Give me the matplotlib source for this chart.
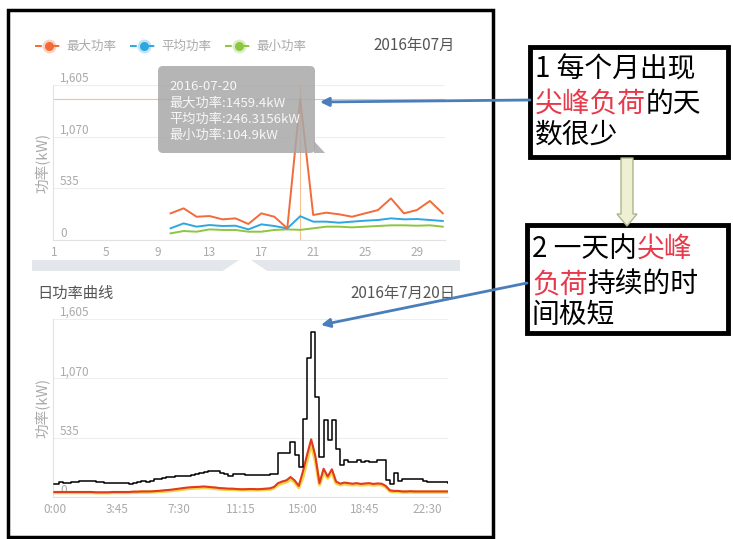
import numpy as np
import matplotlib
matplotlib.use("Agg")
import matplotlib.pyplot as plt
from matplotlib.patches import Rectangle, Polygon, FancyBboxPatch, FancyArrow

plt.rcParams['font.family'] = ['Noto Sans CJK SC', 'DejaVu Sans']

W, H = 733, 539

# ---- monthly summary (July 2016), data from day 10 on ----
days = list(range(10, 32))
max_power = [276, 328, 241, 248, 214, 224, 166, 276, 241, 121, 1459.4,
             259, 283, 266, 241, 276, 310, 431, 276, 310, 404, 276]
avg_power = [121, 172, 138, 155, 145, 148, 110, 162, 145, 120, 246.3156,
             190, 190, 179, 190, 200, 207, 224, 214, 217, 207, 197]
min_power = [69, 93, 86, 110, 104, 104, 86, 86, 104, 110, 104.9,
             121, 138, 138, 131, 138, 145, 152, 152, 148, 152, 138]
day_ticks = [1, 5, 9, 13, 17, 21, 25, 29]
kw_ticks = [0, 535, 1070, 1605]
kw_labels = ["0", "535", "1,070", "1,605"]

# ---- daily curve 2016-07-20, one sample every 15 min ----
peak_curve = [121, 135, 125, 125, 132, 132, 140, 140, 145, 140, 135, 135,
              130, 130, 130, 128, 122, 128, 118, 130, 135, 140, 138, 145,
              158, 165, 175, 178, 180, 185, 185, 190, 190, 195, 205, 215,
              225, 230, 232, 230, 215, 205, 185, 210, 210, 205, 200, 200,
              200, 200, 195, 200, 205, 210, 395, 400, 400, 500, 380, 275,
              700, 1250, 1485, 900, 365, 690, 510, 690, 430, 290, 330, 320,
              315, 330, 315, 325, 320, 315, 330, 335, 150, 120, 215, 145,
              160, 160, 162, 158, 160, 140, 138, 136, 136, 135, 132, 130]
avg_curve = [45, 45, 45, 45, 45, 45, 45, 45, 45, 45, 42, 42,
             42, 42, 45, 45, 45, 45, 45, 48, 48, 50, 50, 50,
             52, 55, 58, 62, 65, 70, 75, 80, 85, 88, 90, 92,
             95, 92, 88, 85, 80, 78, 75, 75, 72, 70, 70, 72,
             72, 70, 72, 75, 78, 90, 125, 140, 150, 180, 150, 100,
             230, 380, 520, 370, 125, 255, 185, 250, 140, 120, 130, 125,
             120, 125, 118, 122, 125, 118, 122, 120, 100, 60, 55, 55,
             50, 50, 52, 50, 50, 50, 50, 50, 50, 50, 50, 50]
low_curve = [40, 40, 40, 40, 40, 40, 40, 40, 40, 40, 38, 38,
             38, 38, 40, 40, 40, 40, 40, 42, 42, 44, 44, 45,
             46, 48, 50, 54, 56, 60, 65, 70, 75, 78, 80, 82,
             85, 82, 80, 76, 72, 70, 68, 68, 65, 64, 64, 65,
             65, 64, 65, 68, 70, 80, 110, 125, 135, 160, 135, 85,
             180, 330, 480, 330, 110, 225, 170, 225, 125, 110, 118, 112,
             110, 112, 108, 110, 112, 108, 110, 110, 90, 52, 48, 48,
             44, 44, 45, 44, 44, 44, 44, 44, 44, 44, 44, 44]
hours = np.arange(len(peak_curve)) / 4
time_ticks = [0, 3.75, 7.5, 11.25, 15, 18.75, 22.5]
time_labels = ["0:00", "3:45", "7:30", "11:15", "15:00", "18:45", "22:30"]

GREY = "#aaaaaa"
RED = "#e8394a"

fig = plt.figure(figsize=(W / 100, H / 100), dpi=100)


def px_axes(x0, y0, x1, y1, **kw):
    return fig.add_axes([x0 / W, 1 - y1 / H, (x1 - x0) / W, (y1 - y0) / H], **kw)


def style_kw_axes(ax):
    ax.set_ylim(0, 1605)
    ax.set_yticks(kw_ticks)
    ax.set_yticklabels(kw_labels)
    ax.grid(axis="y", color="#eeeeee", lw=0.8)
    ax.set_axisbelow(True)
    for s in ("top", "right"):
        ax.spines[s].set_visible(False)
    for s in ("left", "bottom"):
        ax.spines[s].set_color("#e2e2e2")
    ax.tick_params(axis="y", length=0, pad=-5, labelsize=8.5, labelcolor=GREY)
    ax.tick_params(axis="x", length=0, pad=4, labelsize=8.5, labelcolor=GREY)
    for lab in ax.get_yticklabels():
        lab.set_horizontalalignment("left")
        lab.set_verticalalignment("bottom")


# ------------------------------------------------------------------ #
# monthly chart
# ------------------------------------------------------------------ #
ax1 = px_axes(53, 85, 445, 240)
ax1.plot(days, min_power, color="#8dc63f", lw=1.4, zorder=3)
ax1.plot(days, avg_power, color="#2ea7e0", lw=1.4, zorder=3)
ax1.plot(days, max_power, color="#f26b38", lw=1.4, zorder=3)
# crosshair on the selected day
ax1.axhline(max_power[days.index(20)], color="#f6c090", lw=0.8, zorder=2)
ax1.axvline(20, color="#f6c090", lw=0.8, zorder=2)
ax1.set_xlim(0.923, 31.17)
ax1.set_xticks(day_ticks)
style_kw_axes(ax1)

# ------------------------------------------------------------------ #
# daily chart
# ------------------------------------------------------------------ #
ax2 = px_axes(53, 319, 448, 497)
ax2.plot(hours, low_curve, color="#f3d547", lw=2.4, zorder=3)
ax2.plot(hours, avg_curve, color="#e2391f", lw=1.5, zorder=4)
ax2.plot(hours, peak_curve, color="black", lw=1.1, drawstyle="steps-post", zorder=5)
ax2.set_xlim(-0.09, 23.76)
ax2.set_xticks(time_ticks)
ax2.set_xticklabels(time_labels)
style_kw_axes(ax2)

# ------------------------------------------------------------------ #
# overlay in pixel units (origin top-left)
# ------------------------------------------------------------------ #
ov = fig.add_axes([0, 0, 1, 1], zorder=10)
ov.set_xlim(0, W)
ov.set_ylim(H, 0)
ov.axis("off")

# outer frame round the app screenshot
ov.add_patch(Rectangle((8, 10), 485, 527, fill=False, ec="black", lw=2.5))

# legend of the monthly chart
legend_items = [("最大功率", "#f26b38", 35), ("平均功率", "#2ea7e0", 130),
                ("最小功率", "#8dc63f", 225)]
for name, col, x0 in legend_items:
    ov.plot([x0, x0 + 27], [46, 46], color=col, lw=1.4, ls=(0, (3.5, 5.5)))
    ov.plot([x0 + 14], [46], marker="o", ms=10, color=col, alpha=0.3, mec="none")
    ov.plot([x0 + 14], [46], marker="o", ms=6.5, color=col, mec="none")
    ov.text(x0 + 31, 46, name, color=GREY, fontsize=9, va="center", ha="left")
ov.text(455, 45, "2016年07月", color="#555555", fontsize=11, va="center", ha="right")

fig.text(43 / W, 1 - 163 / H, "功率(kW)", rotation=90, color=GREY, fontsize=10.5,
         ha="center", va="center")
fig.text(43 / W, 1 - 408 / H, "功率(kW)", rotation=90, color=GREY, fontsize=10.5,
         ha="center", va="center")

# tooltip of the selected day
ov.add_patch(FancyBboxPatch((158, 66), 157, 87, boxstyle="round,pad=0,rounding_size=5",
                            fc="#a8a8a8", ec="none", alpha=0.85))
ov.add_patch(Polygon([(314, 141), (325, 153), (314, 153)], closed=True,
                     fc="#a8a8a8", ec="none", alpha=0.85))
tip_lines = ["2016-07-20", "最大功率:1459.4kW", "平均功率:246.3156kW", "最小功率:104.9kW"]
for i, line in enumerate(tip_lines):
    ov.text(169, 87 + i * 16, line, color="#f7f7f7", fontsize=9.5, va="center", ha="left")

# band between the two charts with its pointer notch
ov.add_patch(Rectangle((32, 260), 428, 11, fc="#e3e7ec", ec="none"))
ov.add_patch(Polygon([(222, 271.5), (268, 271.5), (245, 256)], closed=True, fc="white", ec="none"))

ov.text(37, 293, "日功率曲线", color="#555555", fontsize=11, va="center", ha="left")
ov.text(455, 293, "2016年7月20日", color="#555555", fontsize=11, va="center", ha="right")

# ------------------------------------------------------------------ #
# annotation boxes
# ------------------------------------------------------------------ #
ov.add_patch(Rectangle((530, 47), 198, 110, fc="white", ec="black", lw=3.5))
ov.add_patch(Rectangle((527, 225), 201, 108, fc="white", ec="black", lw=3.5))


def rich_line(x, y, parts, size=20):
    t = ov.text(x, y, parts[0][0], color=parts[0][1], fontsize=size, va="center", ha="left")
    for s, c in parts[1:]:
        t = ov.annotate(s, xy=(1, 0.5), xycoords=t, color=c, fontsize=size,
                        va="center", ha="left")


rich_line(535, 70, [("1 每个月出现", "black")])
rich_line(535, 104, [("尖峰负荷", RED), ("的天", "black")])
rich_line(535, 135, [("数很少", "black")])
rich_line(532, 249, [("2 一天内", "black"), ("尖峰", RED)])
rich_line(532, 284, [("负荷", RED), ("持续的时", "black")])
rich_line(532, 315, [("间极短", "black")])

ov.add_patch(FancyArrow(627, 158, 0, 68, width=12, head_width=20, head_length=12,
                        length_includes_head=True, fc="#eef0d4", ec="#b0b48a", lw=1))

arrow_kw = dict(arrowstyle="-|>", color="#4a7ebb", lw=2, mutation_scale=13,
                shrinkA=0, shrinkB=0)
ov.annotate("", xy=(320, 102), xytext=(530, 100), arrowprops=arrow_kw)
ov.annotate("", xy=(321, 325), xytext=(527, 283), arrowprops=arrow_kw)

fig.savefig("out.png", dpi=100)
